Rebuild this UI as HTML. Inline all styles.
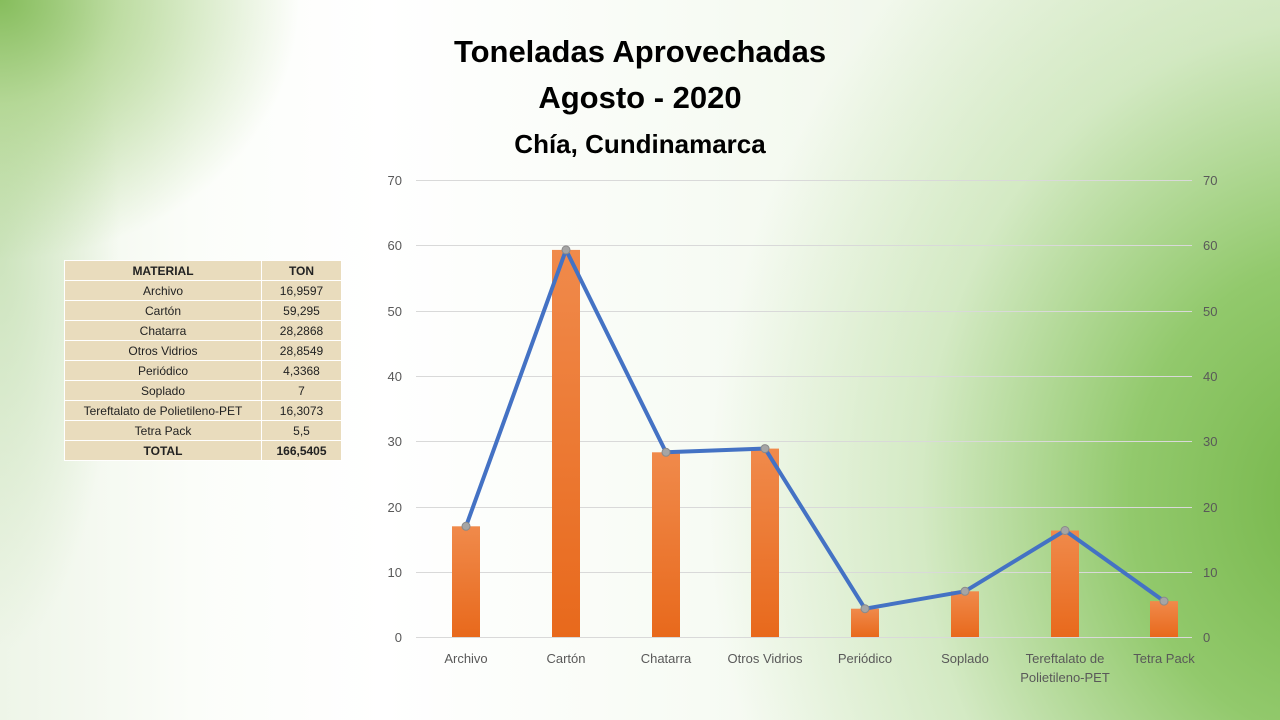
<!DOCTYPE html>
<html><head><meta charset="utf-8"><style>
html,body{margin:0;padding:0}
body{width:1280px;height:720px;position:relative;overflow:hidden;font-family:"Liberation Sans",sans-serif;
background:
radial-gradient(ellipse 300px 260px at 0px 0px,#86bd5c 0%,rgba(160,205,120,0.65) 40%,rgba(255,255,255,0) 100%),
radial-gradient(ellipse 120px 400px at 0px 250px,rgba(190,220,170,0.7) 0%,rgba(255,255,255,0) 100%),
radial-gradient(ellipse 700px 800px at 1340px 500px,#74b548 0%,#92c96c 30%,rgba(200,228,180,0.7) 60%,rgba(255,255,255,0) 90%),
linear-gradient(90deg,#eef5e8 0%,#fbfdf9 15%,#ffffff 30%,#f7fbf4 55%,#e6f1dc 100%);}
.t{position:absolute;left:0;width:1280px;text-align:center;font-weight:bold;color:#000}
table{position:absolute;left:64px;top:260px;border-collapse:collapse;font-size:12px;font-family:"Liberation Sans",sans-serif}
td{height:19px;padding:0;border:1px solid #fff;background:#e9dcbd;text-align:center;color:#222}
td:first-child{width:196px}td:last-child{width:79px}
</style></head><body>
<div class="t" style="top:34px;font-size:31px;">Toneladas Aprovechadas</div>
<div class="t" style="top:80px;font-size:31px;">Agosto - 2020</div>
<div class="t" style="top:129px;font-size:26px;">Chía, Cundinamarca</div>
<table>
<tr><td><b>MATERIAL</b></td><td><b>TON</b></td></tr>
<tr><td>Archivo</td><td>16,9597</td></tr>
<tr><td>Cartón</td><td>59,295</td></tr>
<tr><td>Chatarra</td><td>28,2868</td></tr>
<tr><td>Otros Vidrios</td><td>28,8549</td></tr>
<tr><td>Periódico</td><td>4,3368</td></tr>
<tr><td>Soplado</td><td>7</td></tr>
<tr><td>Tereftalato de Polietileno-PET</td><td>16,3073</td></tr>
<tr><td>Tetra Pack</td><td>5,5</td></tr>
<tr><td><b>TOTAL</b></td><td><b>166,5405</b></td></tr>
</table>
<svg width="1280" height="720" style="position:absolute;left:0;top:0">
<defs><linearGradient id="b" x1="0" y1="0" x2="0" y2="1"><stop offset="0" stop-color="#f08a4b"/><stop offset="1" stop-color="#e8691c"/></linearGradient></defs>
<g stroke="#d9d9d9" stroke-width="1">
<line x1="416" x2="1192" y1="180.5" y2="180.5"/><line x1="416" x2="1192" y1="245.5" y2="245.5"/><line x1="416" x2="1192" y1="311.5" y2="311.5"/><line x1="416" x2="1192" y1="376.5" y2="376.5"/><line x1="416" x2="1192" y1="441.5" y2="441.5"/><line x1="416" x2="1192" y1="507.5" y2="507.5"/><line x1="416" x2="1192" y1="572.5" y2="572.5"/><line x1="416" x2="1192" y1="637.5" y2="637.5"/>
</g>
<g font-size="13" fill="#595959" font-family="Liberation Sans,sans-serif">
<g text-anchor="end"><text x="402" y="185">70</text><text x="402" y="250">60</text><text x="402" y="316">50</text><text x="402" y="381">40</text><text x="402" y="446">30</text><text x="402" y="512">20</text><text x="402" y="577">10</text><text x="402" y="642">0</text></g>
<g text-anchor="start"><text x="1203" y="185">70</text><text x="1203" y="250">60</text><text x="1203" y="316">50</text><text x="1203" y="381">40</text><text x="1203" y="446">30</text><text x="1203" y="512">20</text><text x="1203" y="577">10</text><text x="1203" y="642">0</text></g>
<g text-anchor="middle"><text x="466" y="663">Archivo</text><text x="566" y="663">Cartón</text><text x="666" y="663">Chatarra</text><text x="765" y="663">Otros Vidrios</text><text x="865" y="663">Periódico</text><text x="965" y="663">Soplado</text><text x="1065" y="663">Tereftalato de</text><text x="1065" y="682">Polietileno-PET</text><text x="1164" y="663">Tetra Pack</text></g>
</g>
<g fill="url(#b)">
<rect x="452" y="526.3" width="28" height="110.7"/><rect x="552" y="249.9" width="28" height="387.1"/><rect x="652" y="452.3" width="28" height="184.7"/><rect x="751" y="448.6" width="28" height="188.4"/><rect x="851" y="608.7" width="28" height="28.3"/><rect x="951" y="591.3" width="28" height="45.7"/><rect x="1051" y="530.5" width="28" height="106.5"/><rect x="1150" y="601.1" width="28" height="35.9"/>
</g>
<polyline fill="none" stroke="#4472c4" stroke-width="4" stroke-linejoin="round" points="466,526.3 566,249.9 666,452.3 765,448.6 865,608.7 965,591.3 1065,530.5 1164,601.1"/>
<g fill="#a5a5a5" stroke="#8a8a8a" stroke-width="1">
<circle cx="466" cy="526.3" r="4"/><circle cx="566" cy="249.9" r="4"/><circle cx="666" cy="452.3" r="4"/><circle cx="765" cy="448.6" r="4"/><circle cx="865" cy="608.7" r="4"/><circle cx="965" cy="591.3" r="4"/><circle cx="1065" cy="530.5" r="4"/><circle cx="1164" cy="601.1" r="4"/>
</g>
</svg>
</body></html>
